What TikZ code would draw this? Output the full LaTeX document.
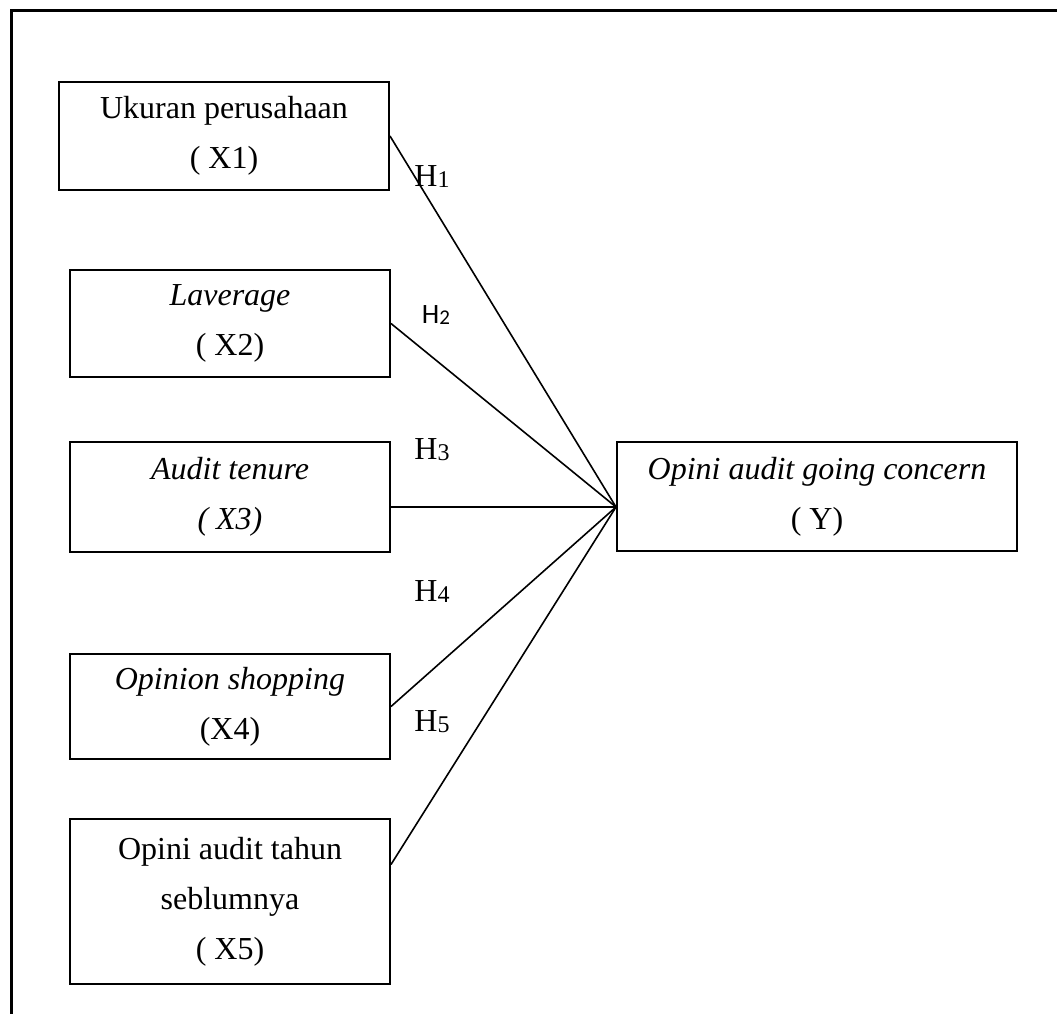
\documentclass[tikz,border=0pt]{standalone}
\usepackage{fontspec}
\setmainfont{Liberation Serif}
\newfontfamily\calibrifont{Carlito}
\usepackage{tikz}
\usetikzlibrary{positioning, calc}
\newcommand{\hsub}[2]{\raisebox{-0.5pt}{\fontsize{#1}{#1}\selectfont #2}}

\begin{document}
\begin{tikzpicture}[
  x=0.5pt, y=-0.5pt,
  font=\fontsize{16}{25}\selectfont,
  varbox/.style={rectangle, draw=black, line width=1pt, anchor=north west,
                 minimum width=160pt, inner sep=0pt},
  link/.style={line width=0.8pt, color=black},
  hyp/.style={inner sep=0pt, font=\fontsize{16}{19}\selectfont},
  every node/.style={align=center}
]
\useasboundingbox (0,0) rectangle (1057,1014);
% Page frame (cut off at right and bottom)
\draw[line width=1.5pt] (11,1014) -- (11,10.5) -- (1057,10.5);
% The independent variables
\node[varbox, minimum width=165pt, minimum height=54pt] (x1) at (58,81)
  {Ukuran perusahaan\\( X1)};
\node[varbox, minimum height=53.5pt] (x2) at (69,269)
  {\textit{Laverage}\\( X2)};
\node[varbox, minimum height=55pt] (x3) at (69,441)
  {\textit{Audit tenure}\\\textit{( X3)}};
\node[varbox, minimum height=52.5pt] (x4) at (69,653)
  {\textit{Opinion shopping}\\(X4)};
\node[varbox, minimum height=82.5pt] (x5) at (69,818)
  {Opini audit tahun\\seblumnya\\( X5)};
% Dependent variable
\node[varbox, minimum width=200pt, minimum height=54.5pt] (y) at (616,441)
  {\textit{Opini audit going concern}\\( Y)};
\coordinate (hub) at ([yshift=-5.25pt]y.west);
% Hypothesis links
\draw[link] (x1.east) -- (hub);
\draw[link] (x2.east) -- (hub);
\draw[link] (x3.east |- hub) -- (hub);
\draw[link] (x4.east) -- (hub);
\draw[link] ([yshift=18.5pt]x5.east) -- (hub);
\node[hyp] (h1) at (432,177) {H\hsub{12}{1}};
\node[hyp, font=\calibrifont\fontsize{14}{17}\selectfont] (h2) at (436,315)
  {H\hsub{10.5}{2}};
\node[hyp] (h3) at (432,450) {H\hsub{12}{3}};
\node[hyp] (h4) at (432,592) {H\hsub{12}{4}};
\node[hyp] (h5) at (432,722) {H\hsub{12}{5}};
\end{tikzpicture}
\end{document}
